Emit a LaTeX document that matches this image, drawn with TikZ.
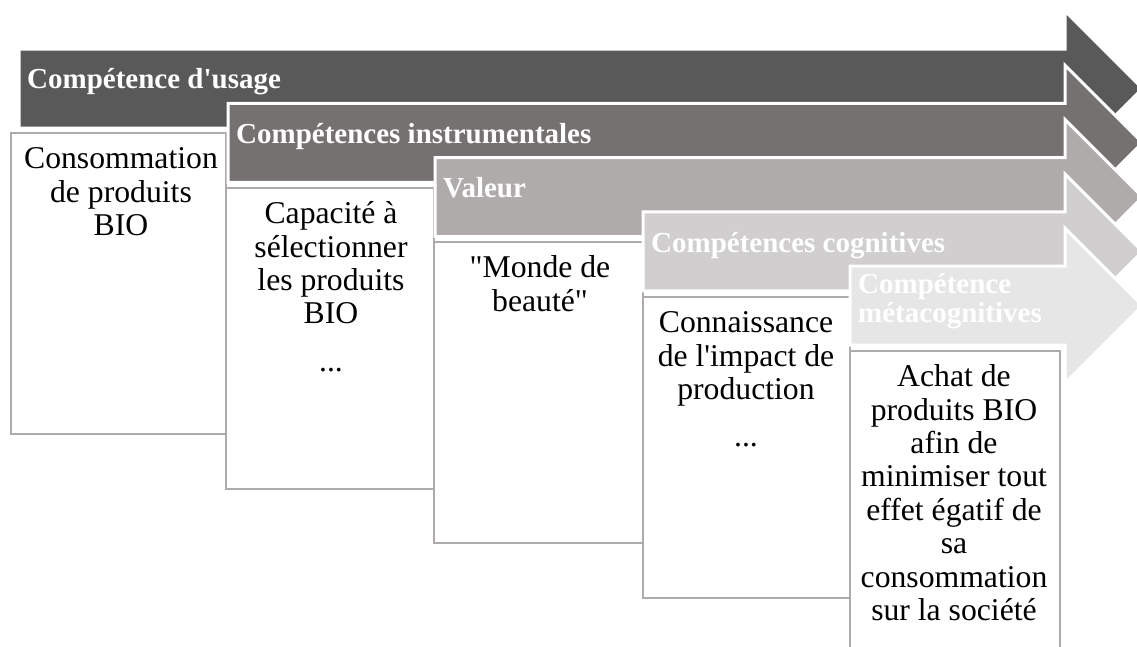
\documentclass[tikz,border=0pt]{standalone}
\usepackage{fontspec}
\setmainfont{Liberation Serif}[Ligatures=TeXOff]
\definecolor{arrA}{HTML}{595959}
\definecolor{arrB}{HTML}{767171}
\definecolor{arrC}{HTML}{AFABAB}
\definecolor{arrD}{HTML}{D0CECE}
\definecolor{arrE}{HTML}{E7E6E6}
\definecolor{boxgray}{HTML}{AFABAB}
\newcommand\firststrut{\rule{0pt}{24pt}}
\newcommand\headstrut{\rule{0pt}{22pt}}
% colour, left x, top y
\newcommand\stagearrow[3]{%
  \filldraw[fill=#1, draw=white, line width=3pt, line join=miter]
    (#2,#3) -- (1065,#3) -- (1065,#3-38) -- (1142.5,#3+39.5)
    -- (1065,#3+117) -- (1065,#3+79) -- (#2,#3+79) -- cycle;}
\begin{document}
\begin{tikzpicture}[x=1pt,y=-1pt,
  stagebox/.style={draw=boxgray, line width=2pt, fill=white, anchor=north west,
    minimum height=301pt, inner sep=0pt},
  bodytext/.style={font=\fontsize{31.7}{33.4}\selectfont, align=center,
    anchor=north, inner sep=0pt, text=black},
  headtext/.style={font=\bfseries\fontsize{29}{29.5}\selectfont, align=left,
    anchor=north west, inner sep=0pt, text=white}]
\useasboundingbox (0,0) rectangle (1137,646);
\clip (0,0) rectangle (1137,646);

% stage 1
\stagearrow{arrA}{19}{49}
\node[headtext] (h1) at (27,66) {\headstrut Compétence d'usage};
\node[stagebox, minimum width=215pt] (b1) at (10,132) {};
\node[bodytext] (t1) at (121,144.5) {\firststrut Consommation\\de produits\\BIO};

% stage 2
\stagearrow{arrB}{228}{103.3}
\node[headtext] (h2) at (236,121) {\headstrut Compétences instrumentales};
\node[stagebox, minimum width=208pt] (b2) at (225,187) {};
\node[bodytext] (t2) at (331,199.5) {\firststrut Capacité à\\sélectionner\\les produits\\BIO\\[14pt]...};

% stage 3
\stagearrow{arrC}{435}{157.6}
\node[headtext] (h3) at (443,175) {\headstrut Valeur};
\node[stagebox, minimum width=209pt] (b3) at (433,241) {};
\node[bodytext] (t3) at (540,253.5) {\firststrut "Monde de\\beauté"};

% stage 4
\stagearrow{arrD}{643}{211.9}
\node[headtext] (h4) at (651,230) {\headstrut Compétences cognitives};
\node[stagebox, minimum width=207pt] (b4) at (642,296) {};
\node[bodytext] (t4) at (746,308.5) {\firststrut Connaissance\\de l'impact de\\production\\[14pt]...};

% stage 5
\stagearrow{arrE}{850}{266.2}
\node[headtext] (h5) at (858,271) {\headstrut Compétence\\métacognitives};
\node[stagebox, minimum width=210pt] (b5) at (849,350) {};
\node[bodytext] (t5) at (954,362.5) {\firststrut Achat de\\produits BIO\\afin de\\minimiser tout\\effet égatif de\\sa\\consommation\\sur la société};
\end{tikzpicture}
\end{document}
